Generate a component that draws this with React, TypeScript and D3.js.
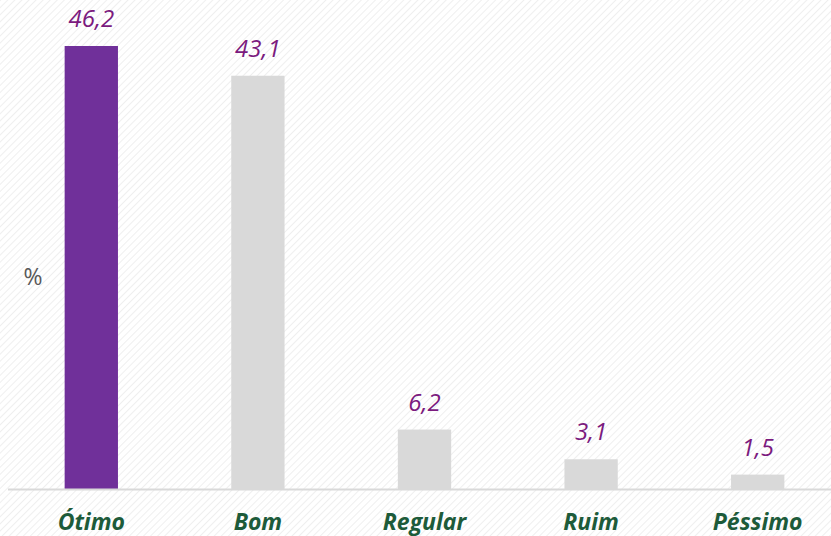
import React from 'react';
import * as d3 from 'd3';

const categories = ['Ótimo', 'Bom', 'Regular', 'Ruim', 'Péssimo'];
const values = [46.2, 43.1, 6.2, 3.1, 1.5];
const valueLabels = ['46,2', '43,1', '6,2', '3,1', '1,5'];
const barColors = ['#70309a', '#d9d9d9', '#d9d9d9', '#d9d9d9', '#d9d9d9'];

const W = 831;
const H = 536;
const baseY = 489;

const App = () => {
  const x = d3.scaleBand<string>()
    .domain(categories)
    .range([8, 841])
    .paddingInner(0.68)
    .paddingOuter(0.34);

  const y = d3.scaleLinear()
    .domain([0, 46.2])
    .range([baseY, 46]);

  const font = "'Open Sans', 'Liberation Sans', sans-serif";

  return (
    <svg width={W} height={H} style={{ position: 'absolute', left: 0, top: 0 }}>
      <defs>
        <pattern id="hatch" patternUnits="userSpaceOnUse" width="5" height="5"
          patternTransform="rotate(45)">
          <line x1="0" y1="0" x2="0" y2="5" stroke="#efefef" strokeWidth="2" />
        </pattern>
      </defs>
      <rect x={0} y={0} width={W} height={H} fill="#ffffff" />
      <rect x={0} y={0} width={W} height={H} fill="url(#hatch)" />

      {categories.map((c, i) => (
        <rect key={c}
          x={x(c)}
          y={y(values[i])}
          width={x.bandwidth()}
          height={baseY - y(values[i])}
          fill={barColors[i]} />
      ))}

      <line x1={8} x2={W} y1={baseY + 0.5} y2={baseY + 0.5} stroke="#d9d9d9" strokeWidth={2} />

      {categories.map((c, i) => (
        <text key={'v' + c}
          x={(x(c) as number) + x.bandwidth() / 2}
          y={y(values[i]) - 19}
          textAnchor="middle"
          fontFamily={font}
          fontStyle="italic"
          fontSize={24}
          fill="#7b1a7e">
          {valueLabels[i]}
        </text>
      ))}

      {categories.map((c) => (
        <text key={'c' + c}
          x={(x(c) as number) + x.bandwidth() / 2}
          y={530}
          textAnchor="middle"
          fontFamily={font}
          fontStyle="italic"
          fontWeight="bold"
          fontSize={23}
          fill="#1d5b3a">
          {c}
        </text>
      ))}

      <text x={33} y={285} textAnchor="middle" fontFamily={font} fontSize={23} fill="#595959">%</text>
    </svg>
  );
};

export default App;
